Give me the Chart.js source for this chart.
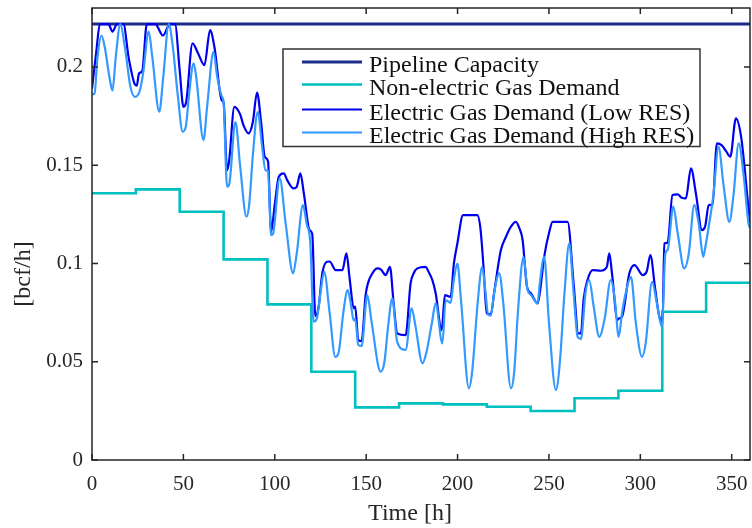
<!DOCTYPE html>
<html>
<head>
<meta charset="utf-8">
<script src="https://cdn.jsdelivr.net/npm/chart.js@4"></script>
<style>
html,body{margin:0;padding:0;background:#fff;}
canvas{display:block;}
</style>
</head>
<body>
<canvas id="c" width="752" height="528"></canvas>
<script>
// ---------- data ----------
const xTicks = [0, 50, 100, 150, 200, 250, 300, 350];
const yTicks = [0, 0.05, 0.1, 0.15, 0.2];
const seriesNames = ['Pipeline Capacity', 'Non-electric Gas Demand', 'Electric Gas Demand (Low RES)', 'Electric Gas Demand (High RES)'];

const capacity = [[0, 0.2218], [360, 0.2218]];

const dayStarts = [0, 24, 48, 72, 96, 120, 144, 168, 192, 216, 240, 264, 288, 312, 336, 360];
const nonElectric = [0.1357, 0.1377, 0.1263, 0.1021, 0.0792, 0.0449, 0.0268, 0.0288, 0.0283, 0.0271, 0.0249, 0.0314, 0.0352, 0.0754, 0.0902, 0.0902];

const lowRES = [
 [0,0.189],[2,0.205],[4.5,0.2218],[9,0.2218],[11.2,0.218],[13.7,0.2218],[17.2,0.2218],[20,0.205],[23.2,0.1916],[24.5,0.1905],
 [25.7,0.1967],[27.5,0.198],[30,0.2218],[34.6,0.2218],[38.8,0.216],[42.6,0.2218],[45.4,0.2218],[48,0.198],[50,0.1797],[51.5,0.182],
 [55,0.212],[58,0.207],[61.5,0.2009],[64.6,0.2187],[67,0.21],[71,0.183],[72,0.182],[73.9,0.1475],[75,0.152],[77.9,0.1797],
 [81,0.176],[83,0.170],[85.7,0.1662],[88,0.172],[90.3,0.187],[92.5,0.172],[94.5,0.1543],[96.3,0.152],[98,0.1161],[100,0.130],
 [102.2,0.1441],[104.9,0.1458],[107,0.142],[110.3,0.1382],[112,0.139],[114,0.1458],[116,0.135],[119,0.117],[120.5,0.115],[122.2,0.0732],
 [124,0.078],[126,0.095],[128.6,0.1009],[130,0.101],[133.3,0.0966],[137,0.0966],[139.2,0.1051],[141,0.092],[143.2,0.0772],[144,0.078],
 [145.7,0.061],[147.5,0.0605],[149.7,0.0839],[151,0.090],[153.4,0.095],[156.1,0.0975],[158,0.097],[160.7,0.0941],[163,0.0983],[165,0.080],
 [167,0.0644],[171.6,0.0635],[174.3,0.0899],[176,0.095],[178,0.0975],[182.6,0.0983],[184,0.096],[186.2,0.0916],[188,0.085],[191.3,0.0661],
 [193.1,0.0839],[196.2,0.0830],[198,0.100],[199.9,0.1102],[203,0.1246],[210.8,0.1246],[212.5,0.118],[214.2,0.0983],[216,0.0746],[218.2,0.0741],
 [220,0.085],[223.7,0.1068],[226.5,0.1136],[229.2,0.1187],[231.9,0.1212],[233.8,0.118],[235.6,0.1119],[238,0.0881],[240.2,0.0848],[243.8,0.0797],
 [245,0.085],[247.4,0.1034],[250.2,0.1161],[252,0.1212],[260.2,0.1212],[263.5,0.0899],[266.1,0.0644],[267.5,0.0644],[269,0.082],[271.1,0.0916],
 [273.9,0.0966],[278.4,0.0963],[281.7,0.0983],[283,0.1051],[284.5,0.095],[287.5,0.0712],[288.2,0.072],[290,0.073],[294,0.095],[296.8,0.0992],
 [301.3,0.0941],[303.5,0.096],[305.5,0.1043],[308,0.088],[310.4,0.0729],[312.2,0.0710],[313.1,0.1102],[314.9,0.1105],[317.6,0.1348],[320.4,0.1352],
 [322.5,0.1335],[324.9,0.1331],[327.7,0.1484],[330.5,0.135],[333.7,0.117],[335.5,0.119],[337.4,0.1297],[339.5,0.130],[341.9,0.1611],[344.6,0.1601],
 [347,0.157],[349.2,0.1543],[352.3,0.1738],[355.2,0.1640],[359.2,0.128],[360,0.121]
];

const highRES = [
 [0,0.186],[1.4,0.1865],[3,0.205],[5.2,0.216],[7,0.210],[9.5,0.195],[11.2,0.188],[13,0.205],[15.5,0.2218],[18,0.210],
 [21,0.190],[23.5,0.1848],[26.2,0.188],[28,0.197],[31,0.218],[33,0.205],[36.8,0.1772],[39,0.195],[42,0.2218],[44,0.212],
 [47,0.185],[49.6,0.167],[51.4,0.170],[53,0.185],[55.6,0.2018],[57,0.195],[61,0.1628],[63,0.180],[66.5,0.2077],[68.5,0.195],
 [71,0.185],[72,0.182],[73.9,0.139],[75,0.140],[78.5,0.172],[81,0.150],[84.5,0.1238],[86,0.130],[88,0.155],[90.7,0.1772],
 [93,0.160],[94.9,0.1475],[96.3,0.147],[98,0.1144],[99,0.115],[102.7,0.1433],[106,0.120],[110,0.095],[112,0.105],[115.4,0.1297],
 [117.5,0.120],[119.4,0.111],[121.3,0.0704],[123,0.072],[125,0.085],[127,0.0958],[130,0.075],[133.1,0.0525],[135,0.055],[137.5,0.075],
 [139.9,0.0865],[141.5,0.080],[143.2,0.071],[144,0.072],[145.7,0.0585],[147.5,0.058],[150.6,0.0839],[153,0.070],[157.9,0.0449],[160,0.050],
 [162,0.068],[164.3,0.0822],[167,0.060],[171.6,0.056],[174.9,0.0772],[177,0.068],[180.8,0.0492],[183,0.055],[186,0.070],[188,0.0797],
 [191.7,0.0593],[193.5,0.0814],[196.2,0.080],[198,0.092],[199.9,0.100],[202,0.080],[206.2,0.0365],[208,0.045],[211,0.080],[213.5,0.0983],
 [215,0.088],[216.8,0.0738],[218.2,0.0735],[220,0.085],[222.8,0.095],[225,0.080],[229.2,0.0365],[231,0.045],[233,0.075],[236.1,0.1034],
 [238.3,0.0865],[240.2,0.084],[243.8,0.0797],[245,0.090],[247.4,0.1034],[250,0.070],[253.8,0.0356],[256,0.050],[258.5,0.085],[261.1,0.1102],
 [263.5,0.085],[265.7,0.0627],[267.5,0.0615],[270,0.085],[272,0.0916],[274.5,0.078],[277.5,0.0627],[280.5,0.072],[283.8,0.0916],[286,0.082],
 [288.2,0.0627],[290,0.075],[292,0.085],[294.9,0.0932],[297.5,0.070],[300.9,0.0525],[303,0.060],[306.4,0.0907],[309,0.080],[311.8,0.0678],
 [313.7,0.1051],[315,0.107],[318,0.1289],[320.5,0.115],[324,0.0975],[326.5,0.105],[329.5,0.1297],[332,0.120],[334.4,0.1034],[335.5,0.108],
 [337.7,0.1204],[340,0.135],[342.8,0.1594],[345.5,0.140],[348.7,0.1212],[351,0.135],[353.8,0.1611],[356.5,0.145],[359.2,0.1204],[360,0.118]
];

// ---------- styles ----------
const colors = ['#1b2d8a', '#00bfbf', '#0000ee', '#3399ff'];
const FONT = '"Liberation Serif", "Times New Roman", serif';
const TXT = '#262626';

const toXY = arr => arr.map(p => ({x: p[0], y: p[1]}));

const boxTicksPlugin = {
  id: 'boxTicks',
  afterDraw(chart) {
    const {ctx, chartArea: a, scales: {x, y}} = chart;
    ctx.save();
    ctx.strokeStyle = TXT;
    ctx.lineWidth = 1.5;
    ctx.strokeRect(a.left, a.top, a.right - a.left, a.bottom - a.top);
    const L = 6;
    ctx.beginPath();
    xTicks.forEach(v => {
      const px = x.getPixelForValue(v);
      ctx.moveTo(px, a.bottom); ctx.lineTo(px, a.bottom - L);
      ctx.moveTo(px, a.top); ctx.lineTo(px, a.top + L);
    });
    yTicks.forEach(v => {
      const py = y.getPixelForValue(v);
      ctx.moveTo(a.left, py); ctx.lineTo(a.left + L, py);
      ctx.moveTo(a.right, py); ctx.lineTo(a.right - L, py);
    });
    ctx.stroke();

    // axis titles
    ctx.fillStyle = TXT;
    ctx.font = '24px ' + FONT;
    ctx.textAlign = 'center';
    ctx.textBaseline = 'middle';
    ctx.fillText('Time [h]', 410, 514);
    ctx.save();
    ctx.translate(24, 274);
    ctx.rotate(-Math.PI / 2);
    ctx.fillText('[bcf/h]', 0, 0);
    ctx.restore();

    // legend
    const bx = 283, by = 49, bw = 417, bh = 97.5;
    ctx.fillStyle = '#fff';
    ctx.fillRect(bx, by, bw, bh);
    ctx.strokeStyle = '#333';
    ctx.lineWidth = 1.5;
    ctx.strokeRect(bx, by, bw, bh);
    const rows = [62, 84.5, 109.5, 132.5];
    const widths = [3, 2.6, 2.2, 2.2];
    ctx.font = '24px ' + FONT;
    ctx.textAlign = 'left';
    ctx.textBaseline = 'alphabetic';
    seriesNames.forEach((name, i) => {
      ctx.strokeStyle = colors[i];
      ctx.lineWidth = widths[i];
      ctx.beginPath();
      ctx.moveTo(302, rows[i]);
      ctx.lineTo(362, rows[i]);
      ctx.stroke();
      ctx.fillStyle = '#111';
      ctx.fillText(name, 369, rows[i] + 10.3);
    });
    ctx.restore();
  }
};

new Chart(document.getElementById('c'), {
  type: 'line',
  data: {
    datasets: [
      {label: seriesNames[3], data: toXY(highRES), borderColor: colors[3], borderWidth: 2.2, pointRadius: 0, cubicInterpolationMode: 'monotone', order: 0},
      {label: seriesNames[2], data: toXY(lowRES), borderColor: colors[2], borderWidth: 2.2, pointRadius: 0, cubicInterpolationMode: 'monotone', order: 1},
      {label: seriesNames[1], data: dayStarts.map((h, i) => ({x: h, y: nonElectric[i]})), borderColor: colors[1], borderWidth: 2.6, pointRadius: 0, stepped: 'before', order: 2},
      {label: seriesNames[0], data: toXY(capacity), borderColor: colors[0], borderWidth: 3, pointRadius: 0, order: 3}
    ]
  },
  options: {
    responsive: false,
    animation: false,
    devicePixelRatio: 1,
    layout: {padding: {top: 8, right: 2, left: 0, bottom: 0}},
    plugins: {legend: {display: false}, tooltip: {enabled: false}},
    scales: {
      x: {
        type: 'linear', min: 0, max: 360,
        grid: {display: false, drawTicks: false},
        border: {display: false},
        afterBuildTicks: s => { s.ticks = xTicks.map(v => ({value: v})); },
        afterFit: s => { s.height = 68; s.paddingLeft = 0; s.paddingRight = 0; },
        ticks: {font: {family: FONT, size: 21}, color: TXT, padding: 12, maxRotation: 0, autoSkip: false,
                callback: v => String(v)}
      },
      y: {
        type: 'linear', min: 0, max: 0.23,
        grid: {display: false, drawTicks: false},
        border: {display: false},
        afterBuildTicks: s => { s.ticks = yTicks.map(v => ({value: v})); },
        afterFit: s => { s.width = 92; s.paddingTop = 0; s.paddingBottom = 0; },
        ticks: {font: {family: FONT, size: 21}, color: TXT, padding: 9, autoSkip: false,
                callback: v => String(+Number(v).toFixed(2))}
      }
    }
  },
  plugins: [boxTicksPlugin]
});
</script>
</body>
</html>
